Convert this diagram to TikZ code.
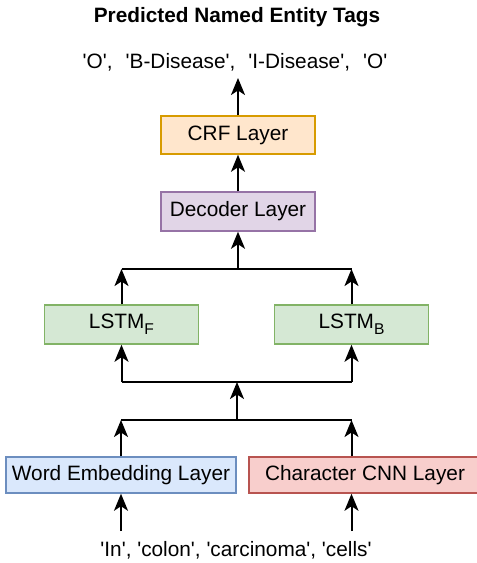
\documentclass[tikz,border=0pt]{standalone}
\usepackage{fontspec}
\newfontfamily\arial{Liberation Sans}
\usetikzlibrary{arrows.meta}
\definecolor{crfF}{HTML}{FFE6CC}
\definecolor{crfD}{HTML}{D79B00}
\definecolor{decF}{HTML}{E1D5E7}
\definecolor{decD}{HTML}{9673A6}
\definecolor{lstF}{HTML}{D5E8D4}
\definecolor{lstD}{HTML}{82B366}
\definecolor{wrdF}{HTML}{DAE8FC}
\definecolor{wrdD}{HTML}{6C8EBF}
\definecolor{chrF}{HTML}{F8CECC}
\definecolor{chrD}{HTML}{B85450}
\newcommand{\subF}[1]{\raisebox{-6pt}{\fontsize{15.6}{16}\selectfont #1}}
\begin{document}
\begin{tikzpicture}[x=1pt,y=-1pt,
  box/.style={draw, line width=1.5pt, font=\arial\fontsize{20.8}{25}\selectfont, inner sep=0pt, anchor=center},
  arr/.style={line width=2pt, -{Stealth[length=17pt,width=14pt,inset=4.5pt]}},
  ln/.style={line width=2pt},
  lbl/.style={font=\arial\fontsize{20.8}{25}\selectfont, inner sep=0pt, anchor=base}]
\useasboundingbox (0,0) rectangle (477,563);
\node[lbl, font=\arial\bfseries\fontsize{20.8}{25}\selectfont] (title) at (237,22) {Predicted Named Entity Tags};
\node[lbl] (tags) at (235,68.5) {'O',\hspace{13.1pt}'B-Disease',\hspace{13.1pt}'I-Disease',\hspace{13.1pt}'O'};
\coordinate (tagsin) at (238,78);

\node[box, fill=crfF, draw=crfD, minimum width=154pt, minimum height=38pt] (crf) at (238,135) {CRF Layer};
\node[box, fill=decF, draw=decD, minimum width=154pt, minimum height=39pt] (dec) at (238,211.5) {Decoder Layer};
\node[box, fill=lstF, draw=lstD, minimum width=154pt, minimum height=39pt] (lstmF) at (121.5,324.5) {LSTM\subF{F}};
\node[box, fill=lstF, draw=lstD, minimum width=154pt, minimum height=39pt] (lstmB) at (351.5,324.5) {LSTM\subF{B}};
\node[box, fill=wrdF, draw=wrdD, minimum width=230pt, minimum height=36pt] (word) at (121,475) {Word Embedding Layer};
\node[box, fill=chrF, draw=chrD, minimum width=232pt, minimum height=36pt] (char) at (365,475) {Character CNN Layer};
\node[lbl] (words) at (236,556.5) {'In', 'colon', 'carcinoma', 'cells'};

\coordinate (j1) at (238,269);
\coordinate (j2) at (237,382);
\coordinate (j3) at (237,420);
\coordinate (wIn) at (121,531);
\coordinate (cIn) at (351.5,531);

\draw[arr] (crf.north) -- (tagsin);
\draw[arr] (dec.north) -- (crf.south);
\draw[arr] (j1) -- (dec.south);
\draw[ln] (lstmF.north |- j1) -- (lstmB.north |- j1);
\draw[arr] (lstmF.north) -- (lstmF.north |- j1);
\draw[arr] (lstmB.north) -- (lstmB.north |- j1);

\draw[ln] (lstmF.south |- j2) -- (lstmB.south |- j2);
\draw[arr] (lstmF.south |- j2) -- (lstmF.south);
\draw[arr] (lstmB.south |- j2) -- (lstmB.south);
\draw[arr] (j3) -- (j2);

\draw[ln] (word.north |- j3) -- (lstmB.north |- j3);
\draw[arr] (word.north) -- (word.north |- j3);
\draw[arr] (lstmB.north |- char.north) -- (lstmB.north |- j3);

\draw[arr] (wIn) -- (word.south);
\draw[arr] (cIn) -- (cIn |- char.south);
\end{tikzpicture}
\end{document}
